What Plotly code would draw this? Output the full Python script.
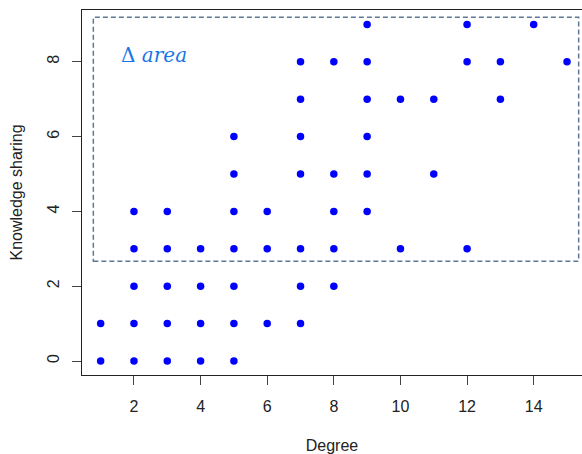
import plotly.graph_objects as go

# Data: degree (x) and knowledge sharing (y) pairs
degree = [1, 1,
          2, 2, 2, 2, 2,
          3, 3, 3, 3, 3,
          4, 4, 4, 4,
          5, 5, 5, 5, 5, 5, 5,
          6, 6, 6,
          7, 7, 7, 7, 7, 7, 7,
          8, 8, 8, 8, 8,
          9, 9, 9, 9, 9, 9,
          10, 10,
          11, 11,
          12, 12, 12,
          13, 13,
          14,
          15]
knowledge = [0, 1,
             0, 1, 2, 3, 4,
             0, 1, 2, 3, 4,
             0, 1, 2, 3,
             0, 1, 2, 3, 4, 5, 6,
             1, 3, 4,
             1, 2, 3, 5, 6, 7, 8,
             2, 3, 4, 5, 8,
             4, 5, 6, 7, 8, 9,
             3, 7,
             5, 7,
             3, 8, 9,
             7, 8,
             9,
             8]

x_ticks = [2, 4, 6, 8, 10, 12, 14]
y_ticks = [0, 2, 4, 6, 8]

# Delta area rectangle bounds (data units)
area_x = [0.78, 15.35]
area_y = [2.67, 9.19]
area_label = "Δ <i>area</i>"

fig = go.Figure()
fig.add_trace(go.Scatter(
    x=degree, y=knowledge, mode="markers",
    marker=dict(color="#0000ff", size=7.5, line=dict(width=0)),
    showlegend=False, hoverinfo="x+y", cliponaxis=False))

fig.add_shape(type="rect", x0=area_x[0], x1=area_x[1], y0=area_y[0], y1=area_y[1],
              xref="x", yref="y",
              line=dict(color="#5f7898", width=1.5, dash="5px,3px"),
              fillcolor="rgba(0,0,0,0)")

fig.add_annotation(x=1.55, y=8.18, xref="x", yref="y", text=area_label,
                   showarrow=False, xanchor="left", yanchor="middle",
                   font=dict(family="DejaVu Serif", size=20, color="#1a75e8"))

axis_font = dict(family="Liberation Sans, Arial, sans-serif", size=16, color="#222222")

fig.update_layout(
    width=582, height=454,
    margin=dict(l=82, r=0, t=10, b=79),
    plot_bgcolor="white", paper_bgcolor="white",
    font=axis_font,
    xaxis=dict(range=[0.44, 15.45], tickvals=x_ticks, ticks="outside", ticklen=9,
               tickcolor="#444444", showline=True, linecolor="#222222", linewidth=1,
               mirror=True, showgrid=False, zeroline=False, automargin=False,
               ticklabelstandoff=8,
               title=dict(text="Degree", standoff=25, font=axis_font),
               tickfont=axis_font),
    yaxis=dict(range=[-0.374, 9.385], tickvals=y_ticks, ticks="outside", ticklen=9,
               tickcolor="#444444", showline=True, linecolor="#222222", linewidth=1,
               mirror=False, showgrid=False, zeroline=False, tickangle=-90,
               automargin=False, ticklabelstandoff=7,
               title=dict(text="Knowledge sharing", standoff=17, font=axis_font),
               tickfont=axis_font),
)

fig.write_html("out.html", config={"displayModeBar": False},
               post_script="document.body.style.margin='0';document.body.style.padding='0';")
